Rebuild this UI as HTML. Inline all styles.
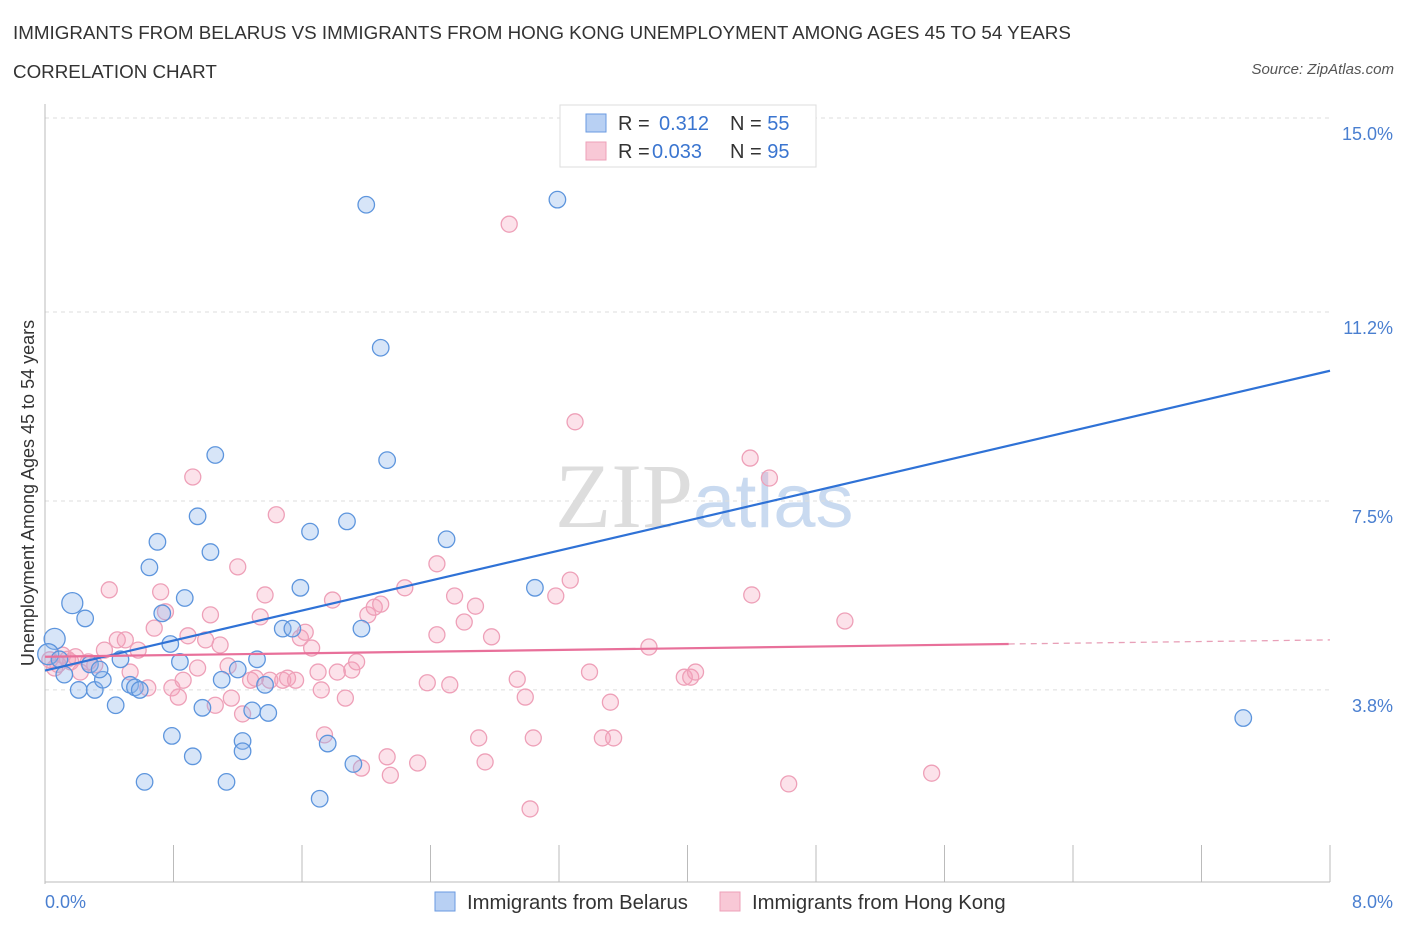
<!DOCTYPE html>
<html><head><meta charset="utf-8"><style>
body{margin:0;background:#fff;font-family:"Liberation Sans",sans-serif;}
#wrap{position:relative;width:1406px;height:930px;overflow:hidden;}
.t{position:absolute;white-space:nowrap;}
</style></head><body>
<div id="wrap">
<div class="t" style="left:13px;top:22px;font-size:18.8px;color:#333;">IMMIGRANTS FROM BELARUS VS IMMIGRANTS FROM HONG KONG UNEMPLOYMENT AMONG AGES 45 TO 54 YEARS</div>
<div class="t" style="left:13px;top:61px;font-size:18.8px;color:#333;">CORRELATION CHART</div>
<div class="t" style="right:12px;top:61px;font-size:15px;color:#555;font-style:italic;">Source: ZipAtlas.com</div>
<svg id="svg" width="1406" height="930" style="position:absolute;left:0;top:0;"></svg>
</div>
<script>
const xTicks=[0,0.8,1.6,2.4,3.2,4.0,4.8,5.6,6.4,7.2,8.0];
const yGrid=[15.0,11.2,7.5,3.8];
const yLabels=["15.0%","11.2%","7.5%","3.8%"];
const blueX=[0.06,0.17,0.25,0.12,0.21,0.31,0.36,0.44,0.47,0.53,0.56,0.59,0.65,0.70,0.73,0.78,0.79,0.84,0.87,0.92,0.95,0.98,1.03,1.06,1.10,1.13,1.20,1.23,1.23,1.29,1.32,1.37,1.39,1.48,1.54,1.59,1.65,1.71,1.76,1.88,1.92,1.97,2.00,2.09,2.13,2.50,3.05,3.19,7.46,0.62,0.02,0.09,0.28,0.34,3.33];
const blueY=[4.8,5.5,5.2,4.1,3.8,3.8,4.0,3.5,4.4,3.9,3.85,3.8,6.2,6.7,5.3,4.7,2.9,4.35,5.6,2.5,7.2,3.45,6.5,8.4,4.0,2.0,4.2,2.8,2.6,3.4,4.4,3.9,3.35,5.0,5.0,5.8,6.9,1.67,2.75,7.1,2.35,5.0,13.3,10.5,8.3,6.75,5.8,13.4,3.25,2.0,4.5,4.4,4.3,4.2,14.8];
const blueS=[14,14,11,11,11,11,11,11,11,11,11,11,11,11,11,11,11,11,11,11,11,11,11,11,11,11,11,11,11,11,11,11,11,11,11,11,11,11,11,11,11,11,11,11,11,11,11,11,11,11,14,11,11,11,11];
const pinkX=[0.03,0.06,0.11,0.16,0.22,0.27,0.31,0.37,0.40,0.45,0.50,0.53,0.58,0.64,0.68,0.72,0.75,0.79,0.83,0.86,0.89,0.92,0.95,1.00,1.03,1.06,1.09,1.14,1.16,1.20,1.23,1.28,1.31,1.34,1.37,1.40,1.44,1.48,1.51,1.56,1.59,1.62,1.66,1.70,1.72,1.74,1.79,1.82,1.87,1.91,1.94,1.97,2.01,2.05,2.09,2.13,2.15,2.24,2.32,2.38,2.44,2.44,2.52,2.55,2.61,2.68,2.70,2.74,2.78,2.89,2.94,2.99,3.02,3.04,3.18,3.27,3.30,3.39,3.47,3.52,3.54,3.76,3.98,4.02,4.05,4.39,4.40,4.51,4.63,4.98,5.52,0.08,0.14,0.19];
const pinkY=[4.39,4.23,4.48,4.35,4.15,4.35,4.29,4.58,5.76,4.78,4.78,4.15,4.58,3.84,5.01,5.72,5.33,3.84,3.66,3.99,4.86,7.97,4.23,4.78,5.27,3.50,4.68,4.27,3.64,6.21,3.33,3.99,4.03,5.23,5.66,3.99,7.23,3.99,4.03,3.99,4.82,4.93,4.62,4.15,3.80,2.92,5.56,4.15,3.64,4.19,4.35,2.27,5.27,5.42,5.48,2.49,2.13,5.80,2.37,3.94,4.88,6.27,3.90,5.64,5.13,5.44,2.86,2.39,4.84,12.92,4.01,3.66,1.47,2.86,5.64,5.95,9.05,4.15,2.86,3.56,2.86,4.64,4.05,4.05,4.15,8.34,5.66,7.95,1.96,5.15,2.17,4.30,4.40,4.45];
const X0=45,X1=1330,Y0=884,PY=51.07;
const sx=v=>X0+v/8*(X1-X0), sy=v=>Y0-v*PY;
const svg=document.getElementById('svg');const NS='http://www.w3.org/2000/svg';
function mk(t,a,p){const e=document.createElementNS(NS,t);for(const k in a)e.setAttribute(k,a[k]);(p||svg).appendChild(e);return e;}
const wm=mk('text',{x:555,y:527,'font-size':92,'font-family':'Liberation Serif,serif',fill:'#ddd'});


wm.innerHTML='ZIP<tspan fill="#c9daf0" font-family="Liberation Sans,sans-serif" font-size="76">atlas</tspan>';
yGrid.forEach((v,i)=>{const l=mk('line',{x1:X0,x2:X1,y1:sy(v),y2:sy(v),stroke:'#ddd','stroke-dasharray':'4,4'});


const t=mk('text',{x:1393,y:sy(v)+22,'text-anchor':'end','font-size':18,fill:'#4a7fd0'});t.textContent=yLabels[i];

});
const ax=mk('line',{x1:X0,x2:X0,y1:104,y2:Y0,stroke:'#bbb'});


const bx=mk('line',{x1:X0,x2:X1,y1:882,y2:882,stroke:'#bbb'});


xTicks.forEach(v=>{const l=mk('line',{x1:sx(v),x2:sx(v),y1:845,y2:882,stroke:'#bbb'});

});
[['0.0%',45,'start'],['8.0%',1393,'end']].forEach(a=>{const t=mk('text',{x:a[1],y:908,'text-anchor':a[2],'font-size':18,fill:'#4a7fd0'});t.textContent=a[0];

});
const yt=mk('text',{x:34,y:493,'text-anchor':'middle','font-size':18,fill:'#333',transform:'rotate(-90 34 493)'});yt.textContent='Unemployment Among Ages 45 to 54 years';


pinkX.forEach((x,i)=>{const c=mk('circle',{cx:sx(x),cy:sy(pinkY[i]),r:8,fill:'rgba(244,160,185,0.3)',stroke:'#eea0b8','stroke-width':1.3});

});
blueX.forEach((x,i)=>{const c=mk('circle',{cx:sx(x),cy:sy(blueY[i]),r:(blueS[i]?blueS[i]:11)*0.75,fill:'rgba(140,180,235,0.35)',stroke:'#5d95dd','stroke-width':1.3});

});
const bl=mk('line',{x1:sx(0),y1:sy(4.18),x2:sx(8),y2:sy(10.05),stroke:'#2f72d6','stroke-width':2.2});


const pl=mk('line',{x1:sx(0),y1:sy(4.45),x2:sx(6.0),y2:sy(4.7),stroke:'#e8709a','stroke-width':2.2});


const pd=mk('line',{x1:sx(6.0),y1:sy(4.7),x2:sx(8),y2:sy(4.78),stroke:'#e8a0b8','stroke-width':1.3,'stroke-dasharray':'6,5'});


const lg=mk('g',{});


mk('rect',{x:560,y:105,width:256,height:62,fill:'#fff',stroke:'#ddd'},lg);
mk('rect',{x:586,y:114,width:20,height:18,fill:'#b8d0f3',stroke:'#6a9ae0'},lg);
mk('rect',{x:586,y:142,width:20,height:18,fill:'#f8c8d6',stroke:'#eea0b8'},lg);
const l1=mk('text',{x:618,y:130,'font-size':20,fill:'#333'},lg);l1.innerHTML='R = <tspan fill="#3a75d0" x="659">0.312</tspan><tspan x="730" fill="#333">N = </tspan><tspan fill="#3a75d0">55</tspan>';
const l2=mk('text',{x:618,y:158,'font-size':20,fill:'#333'},lg);l2.innerHTML='R = <tspan fill="#3a75d0" x="652">0.033</tspan><tspan x="730" fill="#333">N = </tspan><tspan fill="#3a75d0">95</tspan>';
const b1=mk('rect',{x:435,y:892,width:20,height:19,fill:'#b8d0f3',stroke:'#6a9ae0'});


const bt1=mk('text',{x:467,y:909,'font-size':20.3,fill:'#333'});bt1.textContent='Immigrants from Belarus';


const b2=mk('rect',{x:720,y:892,width:20,height:19,fill:'#f8c8d6',stroke:'#eea0b8'});


const bt2=mk('text',{x:752,y:909,'font-size':20.3,fill:'#333'});bt2.textContent='Immigrants from Hong Kong';


</script>
</body></html>
